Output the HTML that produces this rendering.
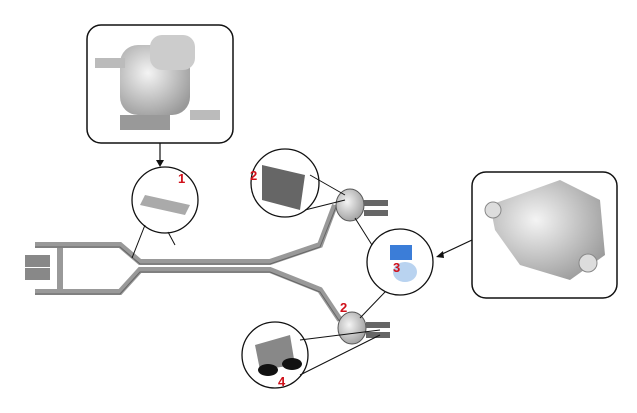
<!DOCTYPE html>
<html><head><style>
body{margin:0;background:#fff;width:637px;height:408px;overflow:hidden}
text{font-family:"Liberation Sans",sans-serif;font-weight:bold;fill:#d0101a;font-size:13px}
</style></head><body>
<svg width="637" height="408" viewBox="0 0 637 408" xmlns="http://www.w3.org/2000/svg">
<defs>
<radialGradient id="c" cx="0.4" cy="0.4" r="0.7"><stop offset="0" stop-color="#f4f4f4"/><stop offset="1" stop-color="#999"/></radialGradient>
</defs>
<rect x="87" y="25" width="146" height="118" rx="14" fill="#fff" stroke="#111" stroke-width="1.5"/>
<rect x="120" y="45" width="70" height="70" rx="18" fill="url(#c)"/>
<rect x="150" y="35" width="45" height="35" rx="12" fill="#ccc"/>
<rect x="95" y="58" width="30" height="10" fill="#bbb"/>
<rect x="190" y="110" width="30" height="10" fill="#bbb"/>
<rect x="120" y="115" width="50" height="15" fill="#999"/>
<line x1="160" y1="143" x2="160" y2="162" stroke="#111" stroke-width="1.2"/>
<polygon points="156,160 164,160 160,167" fill="#111"/>
<rect x="472" y="172" width="145" height="126" rx="14" fill="#fff" stroke="#111" stroke-width="1.5"/>
<path d="M490 205 L560 180 L600 200 L605 255 L570 280 L520 265 L495 230Z" fill="url(#c)"/>
<circle cx="588" cy="263" r="9" fill="#ddd" stroke="#888"/>
<circle cx="493" cy="210" r="8" fill="#ddd" stroke="#888"/>
<line x1="472" y1="240" x2="440" y2="255" stroke="#111" stroke-width="1.2"/>
<polygon points="436,257 443,251 444,258" fill="#111"/>
<g stroke="#999" fill="none" stroke-width="6">
<path d="M35 245 H120 L140 262 H270 L320 245 L335 205"/>
<path d="M35 292 H120 L140 270 H270 L320 290 L340 320"/>
<path d="M60 245 V292"/>
</g>
<g stroke="#666" fill="none" stroke-width="1">
<path d="M35 247 H120 L140 264 H270 L320 247 L336 207"/>
<path d="M35 294 H120 L140 272 H270 L320 292 L340 322"/>
</g>
<rect x="25" y="255" width="25" height="12" fill="#888"/>
<rect x="25" y="268" width="25" height="12" fill="#888"/>
<ellipse cx="350" cy="205" rx="14" ry="16" fill="url(#c)" stroke="#555"/>
<ellipse cx="352" cy="328" rx="14" ry="16" fill="url(#c)" stroke="#555"/>
<rect x="364" y="200" width="24" height="6" fill="#666"/><rect x="364" y="210" width="24" height="6" fill="#666"/>
<rect x="366" y="322" width="24" height="6" fill="#666"/><rect x="366" y="332" width="24" height="6" fill="#666"/>
<g fill="#fff" stroke="#111" stroke-width="1.3">
<circle cx="165" cy="200" r="33"/>
<circle cx="285" cy="183" r="34"/>
<circle cx="400" cy="262" r="33"/>
<circle cx="275" cy="355" r="33"/>
</g>
<g fill="none" stroke="#111" stroke-width="1">
<path d="M145 225 L132 258 M168 232 L175 245"/>
<path d="M305 210 L345 200 M310 175 L345 195"/>
<path d="M372 245 L355 218 M385 292 L360 318"/>
<path d="M300 340 L380 330 M300 375 L380 335"/>
</g>
<path d="M145 195 L190 205 L185 215 L140 205Z" fill="#aaa"/>
<path d="M262 165 L305 175 L300 210 L262 200Z" fill="#666"/>
<rect x="390" y="245" width="22" height="15" fill="#3b7dd8"/>
<ellipse cx="405" cy="272" rx="12" ry="10" fill="#b9d3f0"/>
<path d="M255 345 L290 335 L295 365 L260 370Z" fill="#888"/>
<ellipse cx="268" cy="370" rx="10" ry="6" fill="#111"/>
<ellipse cx="292" cy="364" rx="10" ry="6" fill="#111"/>
<text x="178" y="183">1</text>
<text x="250" y="180">2</text>
<text x="393" y="272">3</text>
<text x="278" y="386">4</text>
<text x="340" y="312">2</text>
</svg>
</body></html>
